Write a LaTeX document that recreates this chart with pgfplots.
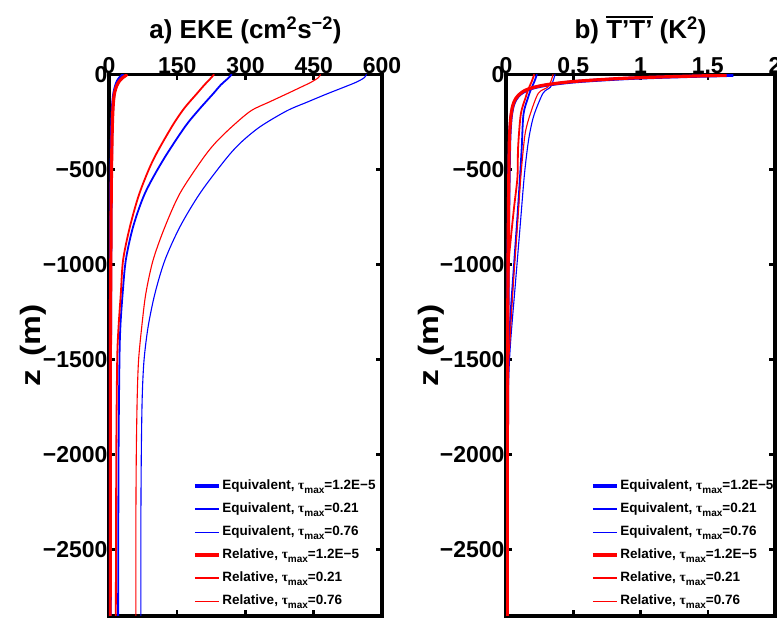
\documentclass[border=0pt]{standalone}
\usepackage{fontspec}
\setmainfont{Liberation Sans}
\newfontfamily\serf{Liberation Serif}
\usepackage{pgfplots}
\pgfplotsset{compat=1.18}

\newcommand\tmax{{\serf τ}\raisebox{-4pt}{\fontsize{10}{10}\selectfont max}}
\newcommand\ovl[1]{\leavevmode\vbox{\hrule height 2.2pt\kern2.5pt\hbox{#1}}}

\pgfplotsset{
  panel/.style={
    scale only axis, height=541.7pt,
    xmin=0, ymin=-2850, ymax=0,
    axis line style={line width=3.5pt},
    tick style={line width=2.5pt, black},
    major tick length=6pt,
    xticklabel pos=upper,
    ytick={0,-500,-1000,-1500,-2000,-2500},
    yticklabels={0,−500,−1000,−1500,−2000,−2500},
    tick label style={font=\fontsize{23}{23}\selectfont\bfseries},
    /pgf/number format/assume math mode=true,
    xticklabel style={yshift=-3pt},
    yticklabel style={xshift=2pt},
    ylabel={\scalebox{1.2}[1]{z\hspace{3pt} (m)}},
    ylabel style={anchor=center,
      font=\fontsize{28}{28}\selectfont\bfseries},
    title style={at={(0.5,1)}, anchor=base, yshift=30pt,
      font=\fontsize{26}{26}\selectfont\bfseries},
    legend cell align=left,
    legend style={anchor=north west, draw=none, fill=none, inner sep=0pt,
      row sep=7pt, column sep=1pt, font=\fontsize{13.5}{13.5}\selectfont\bfseries,
      nodes={text height=10pt, text depth=4pt, inner sep=1pt}},
    legend image code/.code={\draw[line cap=butt, #1] (0pt,0pt) -- (24pt,0pt);},
  },
  eqA/.style={color=blue, line width=3.2pt},
  eqB/.style={color=blue, line width=1.8pt},
  eqC/.style={color=blue, line width=1.1pt},
  reA/.style={color=red, line width=3.2pt},
  reB/.style={color=red, line width=1.8pt},
  reC/.style={color=red, line width=1.1pt},
  keys/.style={
    legend entries={Equivalent{,} \tmax=1.2E−5, Equivalent{,} \tmax=0.21, Equivalent{,} \tmax=0.76,
      Relative{,} \tmax=1.2E−5, Relative{,} \tmax=0.21, Relative{,} \tmax=0.76}},
}

\begin{document}
\begin{tikzpicture}
\useasboundingbox (0,0) rectangle (777pt,618pt);
\clip (0,0) rectangle (777pt,618pt);

% a) EKE
\begin{axis}[panel, keys, at={(109pt,2pt)}, anchor=south west, width=273pt,
  xmax=600, xtick={0,150,300,450,600},
  ylabel style={at={(axis description cs:-0.278,0.5)}},
  title={a) EKE (cm\textsuperscript{2}s\textsuperscript{−2})},
  legend style={at={(0.308,0.255)}}]
\addlegendimage{eqA}\addlegendimage{eqB}\addlegendimage{eqC}
\addlegendimage{reA}\addlegendimage{reB}\addlegendimage{color=red, line width=1.1pt}
\addplot[eqA, smooth, forget plot] coordinates {(32,0) (29,-8) (24,-18) (19,-35) (15,-60) (11,-100) (8,-170) (6,-300) (4.5,-600) (3.5,-1000) (3,-1500) (2.5,-2850)};
\addplot[eqB, smooth, forget plot] coordinates {(270,0) (260,-25) (246,-55) (229,-102) (198,-185) (167,-276) (119,-451) (79,-626) (53,-802) (37,-977) (30,-1153) (25,-1328) (23,-1504) (21,-2000) (20,-2850)};
\addplot[eqC, smooth, forget plot] coordinates {(566,0) (561,-18) (543,-42) (512,-72) (476,-106) (437,-145) (391,-192) (332,-276) (288,-363) (255,-451) (200,-626) (156,-802) (123,-977) (101,-1153) (86,-1328) (77,-1504) (73,-1700) (71,-2000) (70,-2400) (70,-2850)};
\addplot[reA, smooth, forget plot] coordinates {(40,0) (36,-8) (30,-18) (23,-35) (17,-60) (12,-100) (9,-170) (7,-300) (5,-600) (4,-1000) (3,-1500) (2.5,-2850)};
\addplot[reB, smooth, forget plot] coordinates {(231,0) (222,-25) (210,-55) (193,-102) (165,-180) (138,-276) (97,-451) (67,-626) (46,-802) (31,-977) (26,-1153) (21,-1328) (18,-1504) (16,-2000) (15,-2850)};
\addplot[reC, smooth, forget plot] coordinates {(465,0) (460,-18) (444,-42) (418,-72) (388,-106) (353,-145) (312,-192) (270,-276) (233,-363) (204,-451) (156,-626) (123,-802) (97,-977) (81,-1153) (72,-1328) (65,-1504) (62,-1700) (60,-2000) (59,-2400) (59,-2850)};
\end{axis}

% b) T'T'
\begin{axis}[panel, keys, at={(506pt,2pt)}, anchor=south west, width=269pt,
  xmax=2, xtick={0,0.5,1,1.5,2},
  ylabel style={at={(axis description cs:-0.279,0.5)}},
  title={b) \ovl{T’T’} (K\textsuperscript{2})},
  legend style={at={(0.316,0.255)}}]
\addlegendimage{eqA}\addlegendimage{eqB}\addlegendimage{eqC}
\addlegendimage{reA}\addlegendimage{reB}\addlegendimage{color=red, line width=1.1pt}
\addplot[eqA, smooth, forget plot] coordinates {(1.69,-5) (1.25,-13) (0.9,-22) (0.53,-38) (0.32,-55) (0.21,-70) (0.15,-85) (0.105,-105) (0.075,-130) (0.053,-165) (0.037,-230) (0.027,-350) (0.021,-600) (0.016,-1000) (0.012,-1500) (0.01,-2000) (0.01,-2850)};
\addplot[eqB, smooth, forget plot] coordinates {(0.23,0) (0.21,-40) (0.185,-80) (0.164,-122) (0.13,-210) (0.117,-385) (0.104,-542) (0.085,-750) (0.06,-1000) (0.035,-1250) (0.02,-1450) (0.012,-1700) (0.01,-2850)};
\addplot[eqC, smooth, forget plot] coordinates {(0.365,0) (0.35,-35) (0.33,-68) (0.275,-100) (0.21,-210) (0.18,-297) (0.16,-385) (0.135,-542) (0.105,-800) (0.07,-1100) (0.035,-1400) (0.02,-1600) (0.01,-1900) (0.01,-2850)};
\addplot[reA, smooth, forget plot] coordinates {(1.64,-5) (1.2,-13) (0.85,-22) (0.5,-38) (0.3,-55) (0.2,-70) (0.14,-85) (0.1,-105) (0.07,-130) (0.05,-165) (0.035,-230) (0.025,-350) (0.02,-600) (0.015,-1000) (0.012,-1500) (0.01,-2000) (0.01,-2850)};
\addplot[reB, smooth, forget plot] coordinates {(0.21,0) (0.19,-40) (0.165,-80) (0.146,-122) (0.11,-210) (0.09,-385) (0.085,-542) (0.06,-700) (0.035,-870) (0.02,-1000) (0.012,-1300) (0.01,-2850)};
\addplot[reC, smooth, forget plot] coordinates {(0.35,0) (0.335,-35) (0.31,-68) (0.24,-100) (0.18,-210) (0.146,-297) (0.13,-385) (0.11,-542) (0.085,-800) (0.055,-1100) (0.03,-1400) (0.015,-1650) (0.01,-2850)};
\end{axis}
\end{tikzpicture}
\end{document}
